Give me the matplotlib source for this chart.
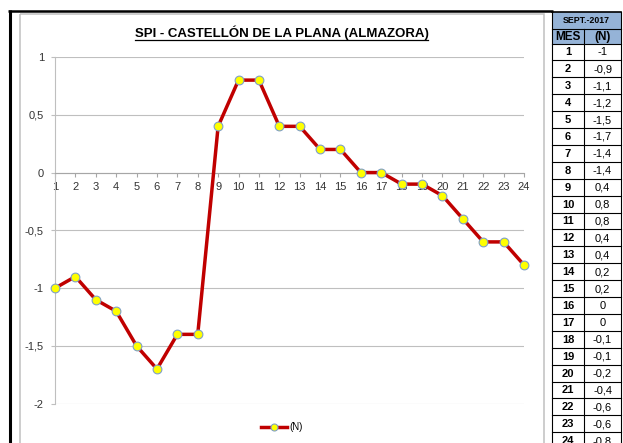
import matplotlib
matplotlib.use('Agg')
import matplotlib.pyplot as plt
from matplotlib.patches import Rectangle

# datos de la tabla / grafico
meses = list(range(1, 25))
spi_n = [-1, -0.9, -1.1, -1.2, -1.5, -1.7, -1.4, -1.4, 0.4, 0.8, 0.8, 0.4,
         0.4, 0.2, 0.2, 0, 0, -0.1, -0.1, -0.2, -0.4, -0.6, -0.6, -0.8]
y_ticks = [1, 0.5, 0, -0.5, -1, -1.5, -2]
titulo = 'SPI - CASTELLÓN DE LA PLANA (ALMAZORA)'
cabecera = 'SEPT.-2017'
col_mes = 'MES'
serie = '(N)'


def coma(v):
    # formato con coma decimal
    return ('%g' % v).replace('.', ',')


plt.rcParams['font.family'] = ['Liberation Sans', 'DejaVu Sans']

W, H = 623, 443
fig = plt.figure(figsize=(W / 100, H / 100), dpi=100)

# capa de fondo en pixeles
fondo = fig.add_axes([0, 0, 1, 1])
fondo.set_xlim(0, W)
fondo.set_ylim(H, 0)
fondo.axis('off')

# marco negro
fondo.plot([9.5, 9.5], [10, H], color='black', lw=2.2, solid_capstyle='butt')
fondo.plot([8, 553], [11, 11], color='black', lw=1.8, solid_capstyle='butt')
# borde del grafico
fondo.add_patch(Rectangle((20, 14), 524, 450, fill=False,
                          edgecolor='#C0C0C0', lw=1.1))

# titulo subrayado
t = fondo.text(281.5, 33, titulo, ha='center', va='center', fontsize=9.5,
               fontweight='bold', color='black')

# grafico principal
ax = fig.add_axes([55 / W, 1 - 403.7 / H, (524 - 55) / W, (403.7 - 57) / H])
ax.set_facecolor('none')
ax.plot(meses, spi_n, color='#C00000', lw=2.5, marker='o', ms=6.3,
        mfc='#FFFF00', mec='#7F9FC6', mew=0.8, clip_on=False, zorder=3,
        label=serie)
ax.set_xlim(1, 24)
ax.set_ylim(-2, 1)
ax.set_xticks(meses)
ax.set_xticklabels([str(m) for m in meses])
ax.set_yticks(y_ticks)
ax.set_yticklabels([coma(v) for v in y_ticks])
ax.yaxis.grid(True, color='#BFBFBF', lw=0.8)
ax.set_axisbelow(True)
for s in ['top', 'right']:
    ax.spines[s].set_visible(False)
ax.spines['bottom'].set_position(('data', 0))
ax.spines['bottom'].set_color('#A6A6A6')
ax.spines['left'].set_color('#BFBFBF')
ax.tick_params(axis='x', direction='out', length=3, width=0.8,
               color='#A6A6A6', pad=4, labelsize=8, labelcolor='#333333')
ax.tick_params(axis='y', direction='out', length=3, width=0.8,
               color='#BFBFBF', pad=5, labelsize=8, labelcolor='#333333')

ax.legend(loc='center', bbox_to_anchor=(282 / W, 1 - 427 / H),
          bbox_transform=fig.transFigure, frameon=False, fontsize=7,
          handlelength=2.7, handletextpad=0.2, markerscale=0.8)

# tabla a la derecha
x0, x1, x2 = 552, 584, 621
y_top, y_sep, y_mes = 11.7, 28.7, 43.5
h = 16.9
azul = '#95B3D7'
fondo.add_patch(Rectangle((x0, y_top), x2 - x0, y_mes - y_top,
                          facecolor=azul, edgecolor='none'))
fondo.plot([x0, x2], [y_top, y_top], color='black', lw=1.2)
fondo.plot([x0, x2], [y_sep, y_sep], color='black', lw=0.8)
for i in range(len(meses) + 1):
    yy = y_mes + i * h
    fondo.plot([x0, x2], [yy, yy], color='black', lw=0.8)
fondo.plot([x0, x0], [y_top, H], color='black', lw=0.8)
fondo.plot([x2, x2], [y_top, H], color='black', lw=0.8)
fondo.plot([x1, x1], [y_sep, H], color='black', lw=0.8)

fondo.text((x0 + x2) / 2, (y_top + y_sep) / 2 + 0.5, cabecera, ha='center',
           va='center', fontsize=6.3, fontweight='bold')
fondo.text((x0 + x1) / 2, (y_sep + y_mes) / 2 + 0.5, col_mes, ha='center',
           va='center', fontsize=8.5, fontweight='bold')
fondo.text((x1 + x2) / 2, (y_sep + y_mes) / 2 + 0.5, serie, ha='center',
           va='center', fontsize=8.5, fontweight='bold')
for i, (m, v) in enumerate(zip(meses, spi_n)):
    yc = y_mes + (i + 0.5) * h + 0.5
    fondo.text((x0 + x1) / 2, yc, str(m), ha='center', va='center',
               fontsize=8, fontweight='bold')
    fondo.text((x1 + x2) / 2, yc, coma(v), ha='center', va='center',
               fontsize=8)

# subrayado del titulo segun su ancho real
fig.canvas.draw()
bb = t.get_window_extent()
inv = fondo.transData.inverted()
(ux0, _), (ux1, _) = inv.transform([[bb.x0, bb.y0], [bb.x1, bb.y1]])
fondo.plot([ux0, ux1], [40, 40], color='black', lw=0.9)

fig.savefig('out.png', dpi=100)
